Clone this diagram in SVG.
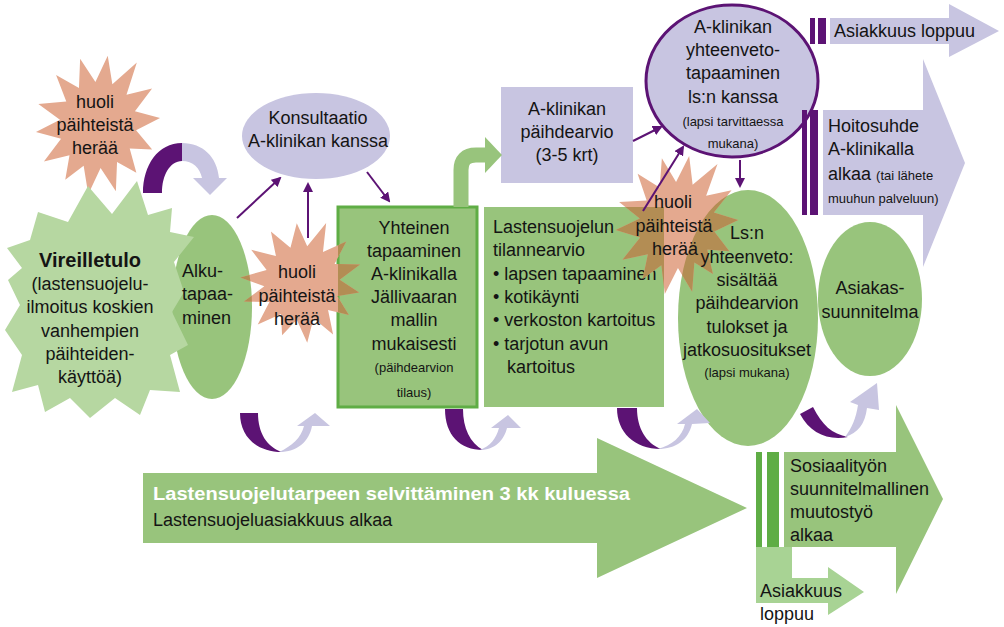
<svg xmlns="http://www.w3.org/2000/svg" xmlns:xlink="http://www.w3.org/1999/xlink" width="1004" height="627" viewBox="0 0 1004 627">
<style>
.t{font-family:"Liberation Sans",Arial,sans-serif;font-size:18px;fill:#141414}
.s{font-size:13px}
.c{text-anchor:middle}
.b{font-weight:bold}
.lav{fill:#C8C5E1}
.grn{fill:#98C47C}
.dgr{fill:#5FAD45}
.pur{fill:#5C1374}
.sal{fill:#E4A98F}
.brn{fill:#B38D54}
.ln{stroke:#5C1374;stroke-width:2;fill:none;marker-end:url(#ah)}
</style>
<defs>
<polygon id="star" points="0,-100 13.8,-60.4 48,-96 38.7,-48.5 78.2,-62.4 55.9,-26.9 97.5,-22.3 62,0 92,24 55.9,26.9 72,60 38.7,48.5 43.4,90.1 13.8,60.4 0,100 -13.8,60.4 -40,84 -38.7,48.5 -78.2,62.4 -55.9,26.9 -97.5,22.3 -62,0 -100,-18 -55.9,-26.9 -78.2,-62.4 -38.7,-48.5 -43.4,-90.1 -13.8,-60.4"/>
<marker id="ah" markerUnits="userSpaceOnUse" markerWidth="10" markerHeight="10" refX="8" refY="5" orient="auto">
<path d="M0,0 L10,5 L0,10 z" fill="#5C1374"/>
</marker>
<clipPath id="clip2"><rect x="338" y="207" width="139" height="200"/><ellipse cx="212" cy="307" rx="40" ry="92"/></clipPath>
<clipPath id="clip3"><rect x="484" y="207" width="180" height="200"/><ellipse cx="748" cy="318" rx="70" ry="128"/></clipPath>
</defs>

<g id="huoli1">
<use xlink:href="#star" class="sal" transform="translate(98,125) rotate(8) scale(0.62,0.70)"/>
<text class="t c" x="95" y="108">huoli</text>
<text class="t c" x="95" y="131">päihteistä</text>
<text class="t c" x="95" y="154">herää</text>
</g>

<g id="alku">
<ellipse class="grn" cx="212" cy="307" rx="40" ry="92"/>
</g>

<g id="vireilletulo">
<polygon fill="#B6D7A1" points="38,212 68,222 88,186 112,214 137,181 148,215 172,208 170,232 194,237 174,262 184,292 172,312 188,345 170,355 180,392 150,390 140,415 115,398 90,418 70,398 45,412 38,385 12,392 22,355 5,330 20,305 8,280 22,268 7,248 30,240"/>
<text class="t c b" x="90" y="267" style="font-size:20px">Vireilletulo</text>
<text class="t c" x="90" y="290">(lastensuojelu-</text>
<text class="t c" x="90" y="313">ilmoitus koskien</text>
<text class="t c" x="90" y="337">vanhempien</text>
<text class="t c" x="90" y="360">päihteiden-</text>
<text class="t c" x="90" y="383">käyttöä)</text>
</g>

<g id="alku-text">
<text class="t" x="182" y="277">Alku-</text>
<text class="t" x="182" y="300">tapaa-</text>
<text class="t" x="182" y="324">minen</text>
</g>

<g id="konsultaatio">
<ellipse class="lav" cx="316" cy="136" rx="74" ry="43"/>
<text class="t c" x="318" y="124">Konsultaatio</text>
<text class="t c" x="318" y="147">A-klinikan kanssa</text>
</g>

<g id="yhteinen">
<rect x="338" y="207" width="139" height="200" fill="#98C47C" stroke="#5FAD45" stroke-width="3"/>
</g>

<g id="huoli2">
<use xlink:href="#star" class="sal" transform="translate(302,283) rotate(-5) scale(0.61,0.60)"/>
<g clip-path="url(#clip2)"><use xlink:href="#star" class="brn" transform="translate(302,283) rotate(-5) scale(0.61,0.60)"/></g>
<text class="t c" x="297" y="278">huoli</text>
<text class="t c" x="297" y="302">päihteistä</text>
<text class="t c" x="297" y="325">herää</text>
</g>

<g id="yhteinen-text">
<text class="t c" x="414" y="234">Yhteinen</text>
<text class="t c" x="414" y="257">tapaaminen</text>
<text class="t c" x="414" y="280">A-klinikalla</text>
<text class="t c" x="414" y="303">Jällivaaran</text>
<text class="t c" x="414" y="326">mallin</text>
<text class="t c" x="414" y="350">mukaisesti</text>
<text class="t c s" x="414" y="372">(päihdearvion</text>
<text class="t c s" x="414" y="397">tilaus)</text>
</g>

<g id="paihdearvio">
<rect class="lav" x="501" y="87" width="132" height="96"/>
<text class="t c" x="567" y="115">A-klinikan</text>
<text class="t c" x="567" y="138">päihdearvio</text>
<text class="t c" x="567" y="161">(3-5 krt)</text>
</g>

<g id="tilannearvio">
<rect class="grn" x="484" y="207" width="180" height="200"/>
<text class="t" x="493" y="233">Lastensuojelun</text>
<text class="t" x="493" y="256">tilannearvio</text>
<text class="t" x="493" y="280">• lapsen tapaaminen</text>
<text class="t" x="493" y="303">• kotikäynti</text>
<text class="t" x="493" y="326">• verkoston kartoitus</text>
<text class="t" x="493" y="350">• tarjotun avun</text>
<text class="t" x="507" y="373">kartoitus</text>
</g>

<g id="yhteenveto-a">
<ellipse cx="732" cy="81" rx="86" ry="76" fill="#C8C5E1" stroke="#5C1374" stroke-width="3"/>
<text class="t c" x="733" y="33">A-klinikan</text>
<text class="t c" x="733" y="56">yhteenveto-</text>
<text class="t c" x="733" y="79">tapaaminen</text>
<text class="t c" x="733" y="103">ls:n kanssa</text>
<text class="t c s" x="733" y="126">(lapsi tarvittaessa</text>
<text class="t c s" x="733" y="148">mukana)</text>
</g>

<g id="asiakkuus-loppuu-1">
<rect class="pur" x="810" y="18" width="5" height="26"/>
<rect class="pur" x="818" y="18" width="8" height="26"/>
<polygon class="lav" points="830,18 949,18 949,4 999,31 949,57 949,44 830,44"/>
<text class="t" x="834" y="37">Asiakkuus loppuu</text>
</g>

<g id="hoitosuhde">
<rect class="pur" x="802" y="110" width="5" height="105"/>
<rect class="pur" x="810" y="110" width="8" height="105"/>
<polygon class="lav" points="823,110 923,110 923,59 965,163 923,267 923,215 823,215"/>
<text class="t" x="828" y="132">Hoitosuhde</text>
<text class="t" x="828" y="155">A-klinikalla</text>
<text class="t" x="828" y="180">alkaa <tspan class="s">(tai lähete</tspan></text>
<text class="t s" x="828" y="203">muuhun palveluun)</text>
</g>

<g id="ls-yhteenveto">
<ellipse class="grn" cx="748" cy="318" rx="70" ry="128"/>
</g>

<g id="huoli3">
<use xlink:href="#star" class="sal" transform="translate(677,225) rotate(10) scale(0.61,0.70)"/>
<g clip-path="url(#clip3)"><use xlink:href="#star" class="brn" transform="translate(677,225) rotate(10) scale(0.61,0.70)"/></g>
<text class="t c" x="673" y="208">huoli</text>
<text class="t c" x="674" y="232">päihteistä</text>
<text class="t c" x="675" y="255">herää</text>
</g>

<g id="ls-yhteenveto-text">
<text class="t c" x="747" y="239">Ls:n</text>
<text class="t c" x="747" y="263">yhteenveto:</text>
<text class="t c" x="747" y="286">sisältää</text>
<text class="t c" x="747" y="309">päihdearvion</text>
<text class="t c" x="747" y="333">tulokset ja</text>
<text class="t c" x="747" y="356">jatkosuositukset</text>
<text class="t c s" x="747" y="377">(lapsi mukana)</text>
</g>

<g id="asiakassuunnitelma">
<ellipse class="grn" cx="870" cy="299" rx="52" ry="77"/>
<text class="t c" x="870" y="294">Asiakas-</text>
<text class="t c" x="870" y="318">suunnitelma</text>
</g>

<g id="selvittaminen">
<polygon class="grn" points="143,473 597,473 597,438 747,508 597,578 597,543 143,543"/>
<text class="t b" x="153" y="500" style="fill:#fff" textLength="477" lengthAdjust="spacingAndGlyphs">Lastensuojelutarpeen selvittäminen 3 kk kuluessa</text>
<text class="t" x="153" y="526">Lastensuojeluasiakkuus alkaa</text>
</g>

<g id="muutostyo">
<rect class="dgr" x="756" y="452" width="6" height="95"/>
<rect class="dgr" x="767" y="452" width="12" height="95"/>
<polygon class="grn" points="784,452 896,452 896,405 943,499 896,594 896,547 784,547"/>
<text class="t" x="790" y="472">Sosiaalityön</text>
<text class="t" x="790" y="495">suunnitelmallinen</text>
<text class="t" x="790" y="518">muutostyö</text>
<text class="t" x="790" y="541">alkaa</text>
</g>

<g id="asiakkuus-loppuu-2">
<polygon fill="#A8D394" points="756,547 792,547 792,578 828,578 828,567 864,592 828,615 828,603 756,603"/>
<text class="t" x="760" y="597">Asiakkuus</text>
<text class="t" x="760" y="620">loppuu</text>
</g>

<g id="connectors">
<line class="ln" x1="237" y1="218" x2="280" y2="178"/>
<line class="ln" x1="308" y1="238" x2="308" y2="184"/>
<line class="ln" x1="367" y1="172" x2="389" y2="201"/>
<line class="ln" x1="633" y1="141" x2="661" y2="127"/>
<line class="ln" x1="643" y1="211" x2="683" y2="147"/>
<line class="ln" x1="740" y1="160" x2="740" y2="186"/>
<path d="M461,207 V170 Q461,155 476,155 H487" fill="none" stroke="#98C47C" stroke-width="15"/>
<polygon class="grn" points="485,137 502,155 485,173"/>
<path class="pur" d="M143,193 C143,165 158,143 182,143 L182,161 C170,161 162,175 162,193 Z"/>
<path class="lav" d="M182,143 C203,143 217,157 219,178 L227,178 L210,195 L193,178 L202,178 C200,168 193,161 182,161 Z"/>
<path class="pur" d="M240,413 L258,413 C258,433 267,447 282,452 C257,452 240,437 240,413 Z"/>
<path class="lav" d="M279,452 C297,452 309,442 312,426 L330,426 L315,413 L297,426 L304,426 C301,438 292,446 279,452 Z"/>
<path class="pur" d="M445,409 L463,409 C463,428 470,443 483,450 C460,450 445,435 445,409 Z"/>
<path class="lav" d="M480,450 C495,450 504,440 507,428 L521,428 L508,415 L491,428 L499,428 C496,439 490,446 480,450 Z"/>
<path class="pur" d="M617,408 L637,408 C637,428 646,443 661,449 C634,449 617,432 617,408 Z"/>
<path class="lav" d="M658,449 C676,449 688,440 692,424 L710,423 L697,409 L677,424 L685,424 C682,437 672,445 658,449 Z"/>
<path class="pur" d="M800,414 L813,407 C822,425 832,434 848,437 C828,441 810,433 800,414 Z"/>
<path class="lav" d="M845,437 C858,433 865,424 867,408 L879,410 L877,383 L850,402 L858,405 C856,418 852,428 845,437 Z"/>
</g>
</svg>
